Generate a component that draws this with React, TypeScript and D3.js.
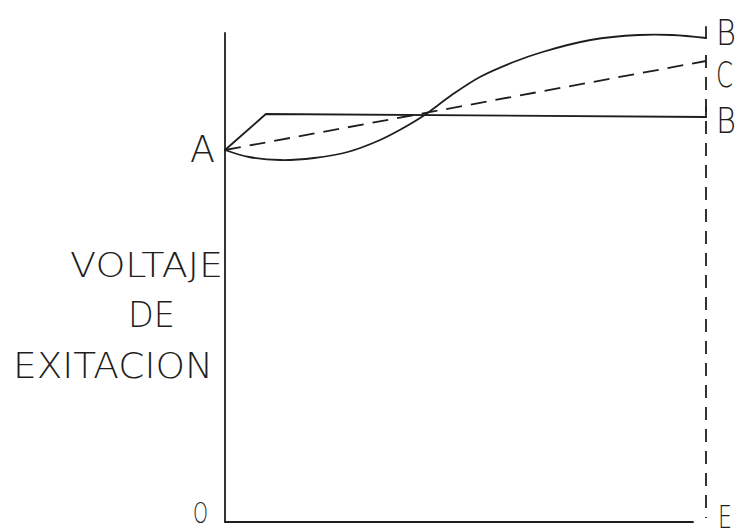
import React from "react";
import * as d3 from "d3";

// Time axis (0..100 %) and excitation voltage (0..100 arbitrary units)
const curveX = [0, 5, 11.5, 18.5, 25.5, 32, 36.5, 41.2, 47, 53, 60, 66, 76, 86, 93, 100];
const curveY = [74.4, 73, 72.4, 72.8, 74, 76.3, 78.5, 81.2, 85.3, 89, 92, 94, 96.4, 97.4, 97.4, 96.8];
const stepX = [0, 8.5, 100];
const stepY = [74.4, 81.6, 81.0];
const linearX = [0, 100];
const linearY = [74.4, 92.2];
const yLabelLines = ["VOLTAJE", "DE", "EXITACION"];
const endLabels = ["B", "C", "B"];

const W = 740, H = 530;
const FONT = "'DejaVu Sans', sans-serif";
const INK = "#1e1e1e";

export default function App() {
  const x = d3.scaleLinear().domain([0, 100]).range([225, 706]);
  const y = d3.scaleLinear().domain([0, 100]).range([522, 22]);
  const line = d3.line<[number, number]>().x(d => x(d[0])).y(d => y(d[1]));
  const smooth = d3.line<[number, number]>().x(d => x(d[0])).y(d => y(d[1])).curve(d3.curveCatmullRom.alpha(0.5));

  const curvePts = curveX.map((v, i) => [v, curveY[i]] as [number, number]);
  const stepPts = stepX.map((v, i) => [v, stepY[i]] as [number, number]);
  const linPts = linearX.map((v, i) => [v, linearY[i]] as [number, number]);

  const endYs = [curveY[curveY.length - 1], linearY[1], stepY[stepY.length - 1]];
  const labelBase = [45, 87, 133];
  const textPos = [
    { x: 70, y: 277, len: 153, size: 34 },
    { x: 128, y: 327, len: 47, size: 36 },
    { x: 13, y: 378, len: 200, size: 36 },
  ];

  return (
    <svg width={W} height={H} style={{ position: "absolute", left: 0, top: 0, background: "#fff" }}>
      <rect width={W} height={H} fill="#fff" />
      <g stroke={INK} strokeWidth={1.8} fill="none" strokeLinecap="round">
        {/* axes */}
        <line x1={x(0)} x2={x(0)} y1={33} y2={y(0)} />
        <line x1={x(0)} x2={693} y1={y(0)} y2={y(0)} />
        {/* right dashed limit */}
        <line x1={x(100)} x2={x(100)} y1={55} y2={518} strokeDasharray="13 9" strokeLinecap="butt" />
        {/* end ticks */}
        <line x1={x(100)} x2={x(100)} y1={y(endYs[0]) - 11} y2={y(endYs[0])} />
        <line x1={x(100)} x2={x(100)} y1={y(endYs[2]) - 10} y2={y(endYs[2])} />
        {/* curves */}
        <path d={smooth(curvePts) || ""} />
        <path d={line(stepPts) || ""} />
        <path d={line(linPts) || ""} strokeDasharray="16 9" strokeLinecap="butt" />
      </g>
      <g fill={INK} fontFamily={FONT} fontWeight={200}>
        {yLabelLines.map((t, i) => (
          <text key={t} x={textPos[i].x} y={textPos[i].y} fontSize={textPos[i].size}
            textLength={textPos[i].len} lengthAdjust="spacingAndGlyphs">{t}</text>
        ))}
        <text x={190} y={162} fontSize={37} textLength={25} lengthAdjust="spacingAndGlyphs">A</text>
        {endLabels.map((t, i) => (
          <text key={i} x={716} y={labelBase[i]} fontSize={36} textLength={t === "C" ? 17 : 20}
            lengthAdjust="spacingAndGlyphs">{t}</text>
        ))}
        <text x={193} y={523} fontSize={28} textLength={15} lengthAdjust="spacingAndGlyphs">O</text>
        <text x={718} y={528} fontSize={32} textLength={14} lengthAdjust="spacingAndGlyphs">E</text>
      </g>
    </svg>
  );
}
